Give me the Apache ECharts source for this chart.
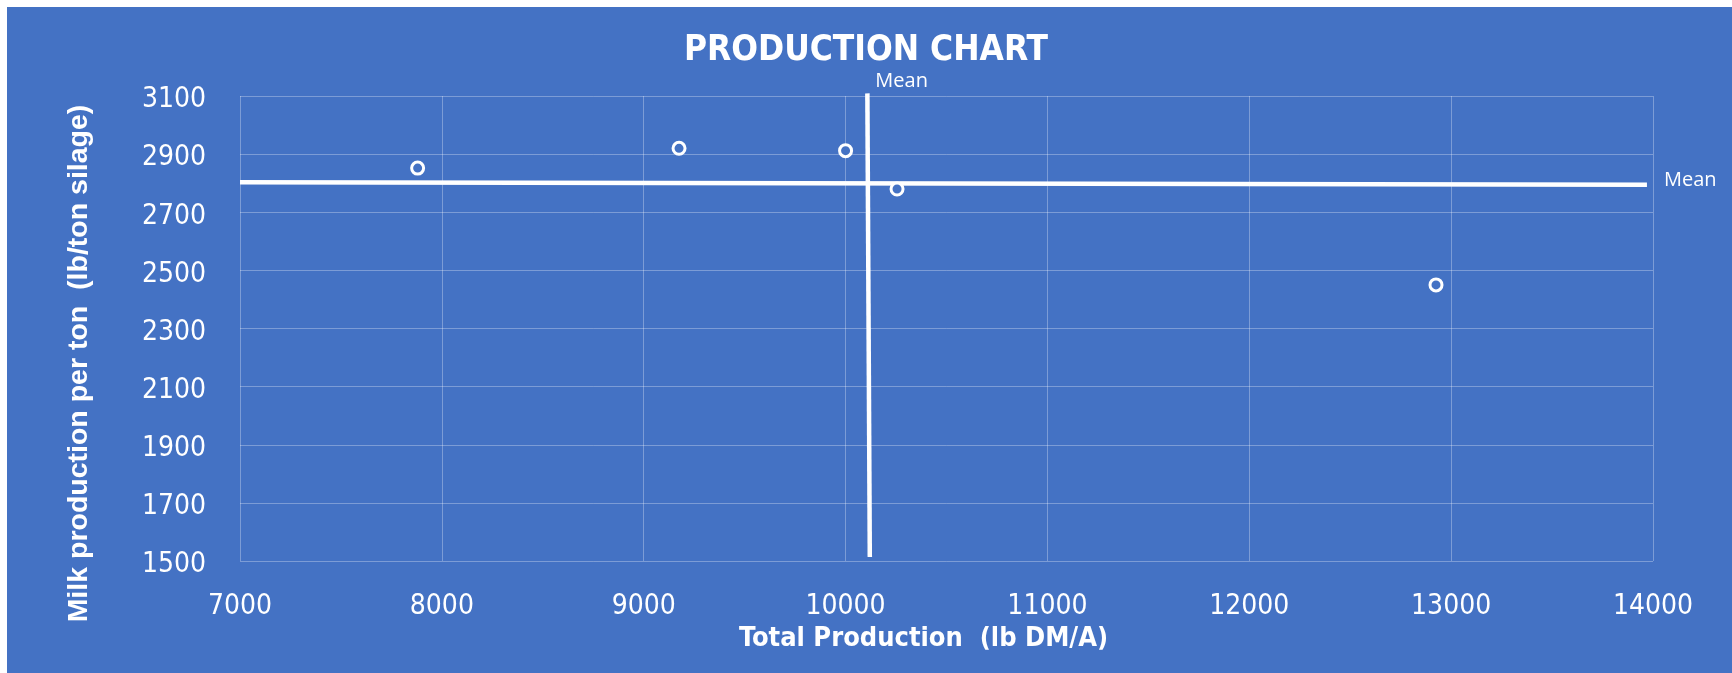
<!DOCTYPE html>
<html>
<head>
<meta charset="utf-8">
<script src="https://cdn.jsdelivr.net/npm/echarts@6/dist/echarts.min.js"></script>
<style>
html,body{margin:0;padding:0;background:#ffffff;}
#bg{position:absolute;left:7px;top:7px;width:1725px;height:666px;background:#4472C4;}
#c{position:absolute;left:0;top:0;width:1732px;height:673px;}
</style>
</head>
<body>
<div id="bg"></div>
<div id="c"></div>
<script>
// Data
const totalProduction = [7880, 9175, 10000, 10255, 12925];
const milkPerTon = [2852, 2920, 2912, 2780, 2450];
const hMeanX = [7000, 13970];
const hMeanY = [2803, 2795];
const vMeanX = [10120, 10108];
const vMeanY = [1514, 3109];
const xMin = 7000, xMax = 14000, xStep = 1000;
const yMin = 1500, yMax = 3100, yStep = 200;
const titleText = 'PRODUCTION CHART';
const xName = 'Total Production  (lb DM/A)';
const yName = 'Milk production per ton  (lb/ton silage)';
const meanLabel = 'Mean';

const points = totalProduction.map((x, i) => [x, milkPerTon[i]]);
const hLine = hMeanX.map((x, i) => [x, hMeanY[i]]);
const vLine = vMeanX.map((x, i) => [x, vMeanY[i]]);

const chart = echarts.init(document.getElementById('c'), null, {renderer: 'canvas'});
const gridColor = 'rgba(255,255,255,0.3)';
const labelFont = '"DejaVu Sans Condensed", "Liberation Sans", sans-serif';
const meanFont = '"Open Sans", sans-serif';

chart.setOption({
  backgroundColor: 'transparent',
  animation: false,
  title: {
    text: titleText,
    left: 'center',
    top: 28,
    textStyle: {
      color: '#ffffff',
      fontFamily: '"DejaVu Sans Condensed", "DejaVu Sans", sans-serif',
      fontWeight: 'bold',
      fontSize: 35
    }
  },
  grid: {left: 240, top: 96, right: 79, bottom: 112},
  xAxis: {
    type: 'value',
    min: xMin, max: xMax, interval: xStep,
    name: xName,
    nameLocation: 'middle',
    nameGap: 54,
    nameTextStyle: {
      color: '#ffffff', fontFamily: labelFont, fontWeight: 'bold', fontSize: 27,
      padding: [0, 46, 0, 0]
    },
    axisLine: {show: false},
    axisTick: {show: false},
    axisLabel: {color: '#ffffff', fontFamily: labelFont, fontSize: 28, margin: 32,
      formatter: v => String(v)},
    splitLine: {show: true, lineStyle: {color: gridColor, width: 1}}
  },
  yAxis: {
    type: 'value',
    min: yMin, max: yMax, interval: yStep,
    name: yName,
    nameLocation: 'middle',
    nameGap: 146,
    nameTextStyle: {
      color: '#ffffff', fontFamily: '"Liberation Sans", Arial, sans-serif', fontWeight: 'bold', fontSize: 28.5,
      padding: [0, 70, 0, 0]
    },
    axisLine: {show: false},
    axisTick: {show: false},
    axisLabel: {color: '#ffffff', fontFamily: labelFont, fontSize: 28, margin: 34,
      formatter: v => '{t|' + String(v) + '}',
      rich: {t: {color: '#ffffff', fontFamily: labelFont, fontSize: 28, padding: [8, 0, 0, 0]}}},
    splitLine: {show: true, lineStyle: {color: gridColor, width: 1}}
  },
  series: [
    {
      type: 'line',
      data: hLine,
      showSymbol: false,
      symbol: 'none',
      clip: false,
      lineStyle: {color: '#ffffff', width: 4.5},
      endLabel: {show: true, formatter: meanLabel, distance: 17, offset: [0, -4],
        color: '#ffffff', fontFamily: meanFont, fontSize: 20},
      z: 3
    },
    {
      type: 'line',
      data: vLine,
      showSymbol: false,
      symbol: 'none',
      clip: false,
      lineStyle: {color: '#ffffff', width: 4.5},
      endLabel: {show: true, formatter: meanLabel, distance: 8, offset: [0, -12],
        color: '#ffffff', fontFamily: meanFont, fontSize: 20},
      z: 3
    },
    {
      type: 'scatter',
      data: points,
      symbol: 'circle',
      symbolSize: 12,
      itemStyle: {color: '#4472C4', borderColor: '#ffffff', borderWidth: 3, opacity: 1},
      z: 4
    }
  ]
});
</script>
</body>
</html>
